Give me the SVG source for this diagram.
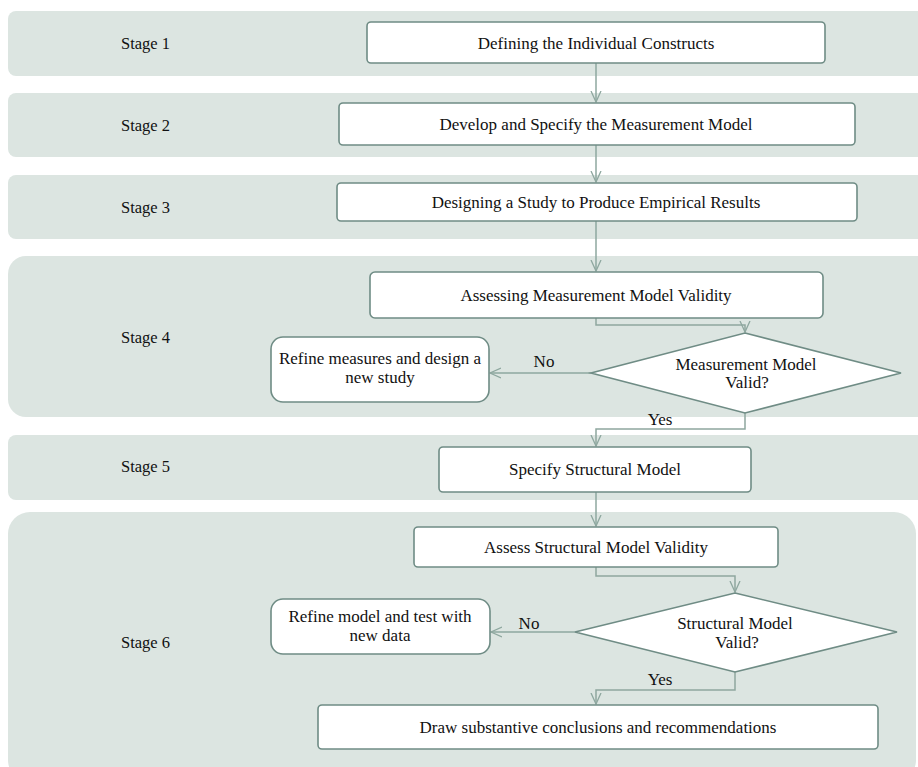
<svg xmlns="http://www.w3.org/2000/svg" width="918" height="767" viewBox="0 0 918 767">
<defs>
<style>
.band{fill:#dce5e1;}
.box{fill:#fff;stroke:#6f8c85;stroke-width:1.6;}
.t{font-family:"Liberation Serif","Times New Roman",serif;font-size:17px;fill:#111;text-anchor:middle;}
.s{font-family:"Liberation Serif","Times New Roman",serif;font-size:16.5px;fill:#111;}
.c{fill:none;stroke:#8ea79f;stroke-width:1.5;}
</style>
<marker id="a" viewBox="0 0 12 12" refX="11" refY="6" markerWidth="12" markerHeight="12" markerUnits="userSpaceOnUse" orient="auto">
<path d="M0,1 L11,6 L0,11" fill="none" stroke="#8ea79f" stroke-width="1.3"/>
</marker>
</defs>
<rect width="918" height="767" fill="#fff"/>
<g id="bands">
<rect class="band" x="8" y="11" width="930" height="65" rx="8"/>
<rect class="band" x="8" y="93" width="930" height="64" rx="8"/>
<rect class="band" x="8" y="175" width="930" height="64" rx="8"/>
<rect class="band" x="8" y="256" width="930" height="161" rx="18"/>
<rect class="band" x="8" y="435" width="930" height="65" rx="8"/>
<rect class="band" x="8" y="512" width="908" height="270" rx="22"/>
</g>
<g id="stages">
<text class="s" x="121" y="49">Stage 1</text>
<text class="s" x="121" y="131">Stage 2</text>
<text class="s" x="121" y="213">Stage 3</text>
<text class="s" x="121" y="343">Stage 4</text>
<text class="s" x="121" y="472">Stage 5</text>
<text class="s" x="121" y="648">Stage 6</text>
</g>
<g id="connectors">
<path class="c" d="M596,63 V102" marker-end="url(#a)"/>
<path class="c" d="M596,145 V182" marker-end="url(#a)"/>
<path class="c" d="M596,221 V271" marker-end="url(#a)"/>
<path class="c" d="M596,318 V325 H745 V332" marker-end="url(#a)"/>
<path class="c" d="M591,373 H490" marker-end="url(#a)"/>
<path class="c" d="M745,413 V429 H596 V446" marker-end="url(#a)"/>
<path class="c" d="M596,492 V526" marker-end="url(#a)"/>
<path class="c" d="M596,567 V576 H735 V592" marker-end="url(#a)"/>
<path class="c" d="M575,632 H491" marker-end="url(#a)"/>
<path class="c" d="M735,672 V690 H596 V704" marker-end="url(#a)"/>
<text class="t" x="544" y="367">No</text>
<text class="t" x="660" y="425">Yes</text>
<text class="t" x="529" y="629">No</text>
<text class="t" x="660" y="685">Yes</text>
</g>
<g id="n1"><rect class="box" x="367" y="22" width="458" height="41" rx="4"/><text class="t" x="596" y="49">Defining the Individual Constructs</text></g>
<g id="n2"><rect class="box" x="339" y="103" width="516" height="42" rx="4"/><text class="t" x="596" y="130">Develop and Specify the Measurement Model</text></g>
<g id="n3"><rect class="box" x="337" y="183" width="520" height="38" rx="4"/><text class="t" x="596" y="208">Designing a Study to Produce Empirical Results</text></g>
<g id="n4"><rect class="box" x="370" y="272" width="453" height="46" rx="5"/><text class="t" x="596" y="301">Assessing Measurement Model Validity</text></g>
<g id="d1"><polygon class="box" points="745,333 901,373 745,413 591,373"/><text class="t" x="746" y="370">Measurement Model</text><text class="t" x="747" y="388">Valid?</text></g>
<g id="r1"><rect class="box" x="271" y="337" width="218" height="65" rx="12"/><text class="t" x="380" y="364">Refine measures and design a</text><text class="t" x="380" y="383">new study</text></g>
<g id="n5"><rect class="box" x="439" y="447" width="312" height="45" rx="4"/><text class="t" x="595" y="475">Specify Structural Model</text></g>
<g id="n6"><rect class="box" x="414" y="527" width="364" height="40" rx="4"/><text class="t" x="596" y="553">Assess Structural Model Validity</text></g>
<g id="d2"><polygon class="box" points="735,593 897,632 735,672 575,632"/><text class="t" x="735" y="629">Structural Model</text><text class="t" x="737" y="648">Valid?</text></g>
<g id="r2"><rect class="box" x="271" y="599" width="219" height="55" rx="12"/><text class="t" x="380" y="622">Refine model and test with</text><text class="t" x="380" y="641">new data</text></g>
<g id="n7"><rect class="box" x="318" y="705" width="560" height="44" rx="4"/><text class="t" x="598" y="733">Draw substantive conclusions and recommendations</text></g>
</svg>
